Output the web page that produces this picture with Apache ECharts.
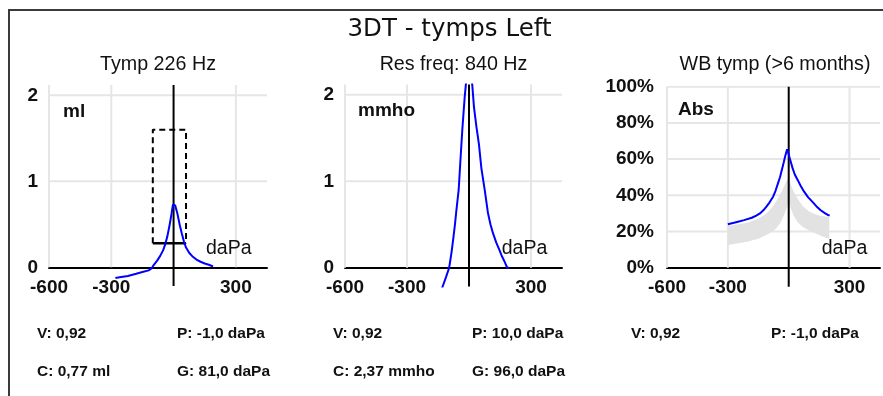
<!DOCTYPE html>
<html><head><meta charset="utf-8">
<script src="https://cdn.jsdelivr.net/npm/echarts@6/dist/echarts.min.js"></script>
<style>html,body{margin:0;padding:0;background:#fff}#c{width:883px;height:396px}</style>
</head><body><div id="c"></div>
<script>
// ---------- data ----------
const mainTitle = '3DT - tymps Left';
const panelTitles = ['Tymp 226 Hz', 'Res freq: 840 Hz', 'WB tymp (>6 months)'];
const unitLabels = ['ml', 'mmho', 'Abs'];
const xUnit = 'daPa';
const xTickLabels = [-600, -300, 300];
const yTicksTymp = [0, 1, 2];
const yTicksWb = [0, 20, 40, 60, 80, 100];

// Tymp 226 Hz (ml)
const tympPressure   = [-280, -260, -220, -180, -150, -120, -105, -95, -80, -65, -50, -40, -30, -20, -10, -3, 2, 8, 18, 30, 40, 50, 60, 75, 90, 110, 130, 150, 170, 190];
const tympCompliance = [-0.125, -0.115, -0.1, -0.075, -0.055, -0.035, -0.01, 0.03, 0.075, 0.13, 0.2, 0.27, 0.36, 0.48, 0.62, 0.73, 0.75, 0.72, 0.63, 0.49, 0.39, 0.30, 0.23, 0.17, 0.13, 0.09, 0.065, 0.045, 0.03, 0.01];
const normBoxPressure = [-100, 60];
const normBoxCompliance = [0.28, 1.6];

// Resonance frequency (mmho)
const resPressure   = [-140, -128, -110, -96, -85, -77, -68, -61, -50, -42, -32, -21, -10, 0, 8, 16, 24, 36, 48, 60, 76, 92, 104, 116, 132, 148, 160, 172, 185, 195];
const resAdmittance = [-0.33, -0.22, -0.1, 0, 0.17, 0.32, 0.5, 0.665, 0.9, 1.22, 1.61, 1.97, 2.25, 2.4, 2.3, 2.11, 1.86, 1.63, 1.43, 1.15, 0.9, 0.63, 0.5, 0.40, 0.29, 0.2, 0.13, 0.07, 0.0, 0.0];

// WB tymp absorbance (%)
const wbPressure   = [-300, -270, -250, -220, -182, -160, -142, -125, -110, -95, -77, -65, -53, -43, -34, -25, -18, -8, -2, 3, 10, 19, 30, 44, 60, 76, 95, 116, 136, 156, 180, 195, 202];
const wbAbsorbance = [24, 24.8, 25.4, 26.3, 27.6, 28.8, 30, 31.7, 33.7, 36, 39.2, 42.5, 46.6, 50, 54, 58, 61.3, 65.4, 63.5, 61.3, 58.5, 55, 51.5, 48.5, 45, 42, 39, 36.5, 34, 31.9, 30, 29, 29];
const normPressure = [-300, -250, -200, -150, -110, -80, -60, -40, -25, -10, 0, 10, 25, 45, 70, 100, 130, 160, 200];
const normLow      = [12.5, 13.5, 14.5, 16, 18, 20, 22, 25, 28.5, 33, 37, 33, 28.5, 25, 22.5, 20.5, 19, 17.5, 16];
const normHigh     = [23, 24, 25, 27, 30, 33.5, 37, 41, 44.5, 48, 50, 46, 42, 38, 34, 31, 29.5, 28.5, 28];

const statsRow1 = [['V: 0,92', 'P: -1,0 daPa'], ['V: 0,92', 'P: 10,0 daPa'], ['V: 0,92', 'P: -1,0 daPa']];
const statsRow2 = [['C: 0,77 ml', 'G: 81,0 daPa'], ['C: 2,37 mmho', 'G: 96,0 daPa'], ['', '']];

// ---------- layout ----------
const FONT = 'Liberation Sans, Arial, sans-serif';
const grids = [
  {left: 49, top: 85, width: 218, height: 201},
  {left: 345, top: 84.5, width: 217, height: 202},
  {left: 667, top: 86.7, width: 217, height: 200}
];
const yRanges = [[-0.217, 2.12], [-0.217, 2.12], [-10.5, 100]];
const yLabelVals = [yTicksTymp, yTicksTymp, yTicksWb];
const xMin = -600, xMax = 450;

const zip = (a, b) => a.map((v, i) => [v, b[i]]);

const xAxes = grids.map((g, i) => ({
  type: 'value', gridIndex: i, min: xMin, max: xMax, interval: 300,
  axisLine: {show: true, onZero: true, lineStyle: {color: '#000', width: 2}},
  axisTick: {show: false}, splitLine: {show: false},
  axisLabel: {margin: -8, color: '#111', fontSize: 19, fontWeight: 'bold', fontFamily: FONT,
    formatter: v => xTickLabels.includes(v) ? String(v) : ''}
}));
const yAxes = grids.map((g, i) => ({
  type: 'value', gridIndex: i, min: yRanges[i][0], max: yRanges[i][1],
  axisLine: {show: false, onZero: false}, axisTick: {show: false}, splitLine: {show: false},
  axisLabel: {customValues: yLabelVals[i], margin: i === 2 ? 13 : 11, color: '#111', fontSize: 19, fontWeight: 'bold', fontFamily: FONT,
    formatter: v => i === 2 ? v + '%' : String(v)}
}));

const series = [];
function gridLines(i, vx, hy, yTop) {
  const d = [];
  vx.forEach(x => { d.push([x, 0], [x, yTop], null); });
  hy.forEach(y => { d.push([xMin, y], [xMax, y], null); });
  series.push({type: 'line', xAxisIndex: i, yAxisIndex: i, data: d, symbol: 'none', silent: true, z: 0,
    connectNulls: false, lineStyle: {color: '#e6e6e6', width: 2}, animation: false});
  series.push({type: 'line', xAxisIndex: i, yAxisIndex: i, data: [[0, yRanges[i][0]], [0, yRanges[i][1]]], symbol: 'none',
    silent: true, z: 3, lineStyle: {color: '#000', width: 2}, animation: false});
}
gridLines(0, [-600, -300, 300], [1, 2], yRanges[0][1]);
gridLines(1, [-600, -300, 300], [1, 2], yRanges[1][1]);
gridLines(2, [-600, -300, 300], [20, 40, 60, 80, 100], 100);

// norm box
const bx = normBoxPressure, by = normBoxCompliance;
series.push({type: 'line', xAxisIndex: 0, yAxisIndex: 0, symbol: 'none', silent: true, z: 4, animation: false,
  data: [[bx[0], by[0]], [bx[0], by[1]], [bx[1], by[1]], [bx[1], by[0]]],
  lineStyle: {color: '#000', width: 2, type: [6, 4]}});
series.push({type: 'line', xAxisIndex: 0, yAxisIndex: 0, symbol: 'none', silent: true, z: 4, animation: false,
  data: [[bx[0], by[0]], [bx[1], by[0]]], lineStyle: {color: '#000', width: 2.5}});

// curves
series.push({type: 'line', xAxisIndex: 0, yAxisIndex: 0, data: zip(tympPressure, tympCompliance), symbol: 'none',
  z: 5, clip: true, lineStyle: {color: '#0000ff', width: 2}, animation: false});
series.push({type: 'line', xAxisIndex: 1, yAxisIndex: 1, data: zip(resPressure, resAdmittance), symbol: 'none',
  z: 5, clip: true, lineStyle: {color: '#0000ff', width: 2}, animation: false});
// norm band
series.push({type: 'custom', xAxisIndex: 2, yAxisIndex: 2, z: 1, silent: true, animation: false,
  data: normPressure.map((p, k) => [p, normLow[k], normHigh[k]]),
  encode: {x: 0, y: [1, 2]},
  renderItem: function (params, api) {
    if (params.dataIndex !== 0) return null;
    const pts = [];
    for (let k = 0; k < normPressure.length; k++) pts.push(api.coord([normPressure[k], normHigh[k]]));
    for (let k = normPressure.length - 1; k >= 0; k--) pts.push(api.coord([normPressure[k], normLow[k]]));
    return {type: 'polygon', shape: {points: pts}, style: {fill: '#e2e2e2'}};
  }});
series.push({type: 'line', xAxisIndex: 2, yAxisIndex: 2, data: zip(wbPressure, wbAbsorbance), symbol: 'none',
  z: 5, clip: true, lineStyle: {color: '#0000ff', width: 2}, animation: false});

// ---------- texts ----------
const txt = (text, x, y, size, opts = {}) => ({type: 'text', x, y, silent: true, z: 10,
  style: Object.assign({text, fontSize: size, fontFamily: FONT, fill: '#111', align: 'left', verticalAlign: 'middle'}, opts)});
const graphic = [
  {type: 'rect', silent: true, z: -1, shape: {x: 9, y: 10, width: 900, height: 420}, style: {fill: 'none', stroke: '#3a3a3a', lineWidth: 2}},
  txt(mainTitle, 449.5, 29.5, 24.5, {align: 'center', fontFamily: 'DejaVu Sans, sans-serif'})
];
const titleCx = [158, 453.5, 775];
panelTitles.forEach((t, i) => graphic.push(txt(t, titleCx[i], 65, 19.7, {align: 'center'})));
const unitX = [63, 358, 678], unitY = [111.5, 110.5, 110];
unitLabels.forEach((t, i) => graphic.push(txt(t, unitX[i], unitY[i], 19, {fontWeight: 'bold'})));
const daPaX = [206, 501.7, 821.7];
daPaX.forEach(x => graphic.push(txt(xUnit, x, 249, 19.5)));
const statX1 = [37, 333, 631], statX2 = [177, 472, 771];
statsRow1.forEach((r, i) => { graphic.push(txt(r[0], statX1[i], 333.5, 15.5, {fontWeight: 'bold'})); graphic.push(txt(r[1], statX2[i], 333.5, 15.5, {fontWeight: 'bold'})); });
statsRow2.forEach((r, i) => { if (r[0]) graphic.push(txt(r[0], statX1[i], 372, 15.5, {fontWeight: 'bold'})); if (r[1]) graphic.push(txt(r[1], statX2[i], 372, 15.5, {fontWeight: 'bold'})); });

const chart = echarts.init(document.getElementById('c'), null, {renderer: 'canvas'});
chart.setOption({
  animation: false,
  backgroundColor: '#fff',
  grid: grids,
  xAxis: xAxes,
  yAxis: yAxes,
  series,
  graphic
});
</script></body></html>
